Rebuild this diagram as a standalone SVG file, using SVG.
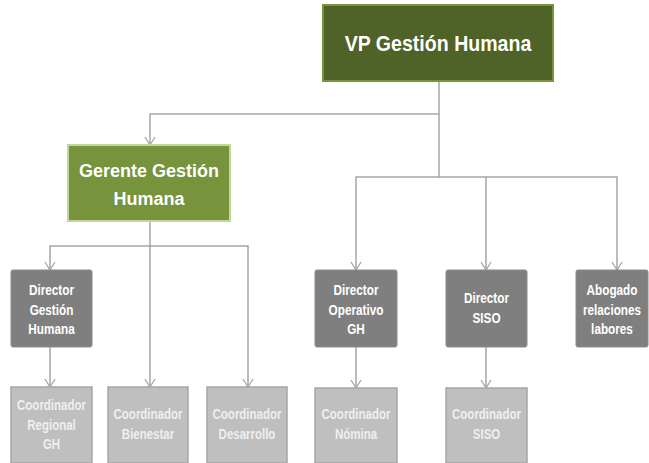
<svg xmlns="http://www.w3.org/2000/svg" width="649" height="463" viewBox="0 0 649 463">
<style>
.c{fill:none;stroke:#A6A6A6;stroke-width:1.5}
.t{font-family:"Liberation Sans",Arial,sans-serif;font-weight:bold;text-anchor:middle}
.l2 rect{fill:#7F7F7F;stroke:#8C8C8C;stroke-width:1}
.l2 text{fill:#FFFFFF;font-size:14px}
.l3 rect{fill:#BFBFBF;stroke:#A6A6A6;stroke-width:1.5}
.l3 text{fill:#EFEFEF;font-size:14px}
</style>
<defs>
<marker id="a" markerWidth="10" markerHeight="12" refX="9" refY="6" orient="auto" markerUnits="userSpaceOnUse" viewBox="0 0 10 12">
<path d="M1,1 L9,6 L1,11" fill="none" stroke="#A6A6A6" stroke-width="1.3"/>
</marker>
</defs>
<rect width="649" height="463" fill="#FFFFFF"/>
<g id="connectors">
<path class="c" d="M439,81 V114 H150 V145" marker-end="url(#a)"/>
<path class="c" d="M439,114 V177 H356 V270" marker-end="url(#a)"/>
<path class="c" d="M439,177 H486 V270" marker-end="url(#a)"/>
<path class="c" d="M486,177 H617 V270" marker-end="url(#a)"/>
<path class="c" d="M150,221 V246 H50 V270" marker-end="url(#a)"/>
<path class="c" d="M150,246 V387" marker-end="url(#a)"/>
<path class="c" d="M150,246 H248 V387" marker-end="url(#a)"/>
<path class="c" d="M50,347 V387" marker-end="url(#a)"/>
<path class="c" d="M356,347 V388" marker-end="url(#a)"/>
<path class="c" d="M486,347 V388" marker-end="url(#a)"/>
</g>
<g id="vp">
<rect x="323" y="5" width="230" height="76" fill="#4F6228" stroke="#77933C" stroke-width="2"/>
<g transform="translate(438,0) scale(0.89,1)"><text class="t" x="0" y="51" fill="#FFFFFF" font-size="22">VP Gestión Humana</text></g>
</g>
<g id="gerente">
<rect x="68" y="145" width="162" height="76" fill="#77933C" stroke="#C3D69B" stroke-width="2"/>
<text class="t" x="149" y="177" fill="#FFFFFF" font-size="18">Gerente Gestión</text>
<text class="t" x="149" y="205" fill="#FFFFFF" font-size="18">Humana</text>
</g>
<g id="dir-gh" class="l2">
<rect x="11" y="270" width="81" height="77" rx="2"/>
<g transform="translate(51.5,0) scale(0.84,1)">
<text class="t" x="0" y="295">Director</text>
<text class="t" x="0" y="315">Gestión</text>
<text class="t" x="0" y="334">Humana</text>
</g>
</g>
<g id="dir-op" class="l2">
<rect x="315" y="270" width="82" height="77" rx="2"/>
<g transform="translate(356,0) scale(0.84,1)">
<text class="t" x="0" y="295">Director</text>
<text class="t" x="0" y="315">Operativo</text>
<text class="t" x="0" y="334">GH</text>
</g>
</g>
<g id="dir-siso" class="l2">
<rect x="446" y="270" width="81" height="77" rx="2"/>
<g transform="translate(486.5,0) scale(0.84,1)">
<text class="t" x="0" y="303">Director</text>
<text class="t" x="0" y="323">SISO</text>
</g>
</g>
<g id="abogado" class="l2">
<rect x="576" y="270" width="72" height="77" rx="2"/>
<g transform="translate(612,0) scale(0.84,1)">
<text class="t" x="0" y="295">Abogado</text>
<text class="t" x="0" y="315">relaciones</text>
<text class="t" x="0" y="334">labores</text>
</g>
</g>
<g id="coord-reg" class="l3">
<rect x="11" y="387" width="81" height="76"/>
<g transform="translate(51.5,0) scale(0.82,1)">
<text class="t" x="0" y="410">Coordinador</text>
<text class="t" x="0" y="430">Regional</text>
<text class="t" x="0" y="449">GH</text>
</g>
</g>
<g id="coord-bien" class="l3">
<rect x="108" y="387" width="80" height="76"/>
<g transform="translate(148,0) scale(0.82,1)">
<text class="t" x="0" y="419">Coordinador</text>
<text class="t" x="0" y="439">Bienestar</text>
</g>
</g>
<g id="coord-des" class="l3">
<rect x="207" y="387" width="80" height="76"/>
<g transform="translate(247,0) scale(0.82,1)">
<text class="t" x="0" y="419">Coordinador</text>
<text class="t" x="0" y="439">Desarrollo</text>
</g>
</g>
<g id="coord-nom" class="l3">
<rect x="315" y="388" width="82" height="75"/>
<g transform="translate(356,0) scale(0.82,1)">
<text class="t" x="0" y="419">Coordinador</text>
<text class="t" x="0" y="439">Nómina</text>
</g>
</g>
<g id="coord-siso" class="l3">
<rect x="446" y="388" width="81" height="75"/>
<g transform="translate(486.5,0) scale(0.82,1)">
<text class="t" x="0" y="419">Coordinador</text>
<text class="t" x="0" y="439">SISO</text>
</g>
</g>
</svg>
